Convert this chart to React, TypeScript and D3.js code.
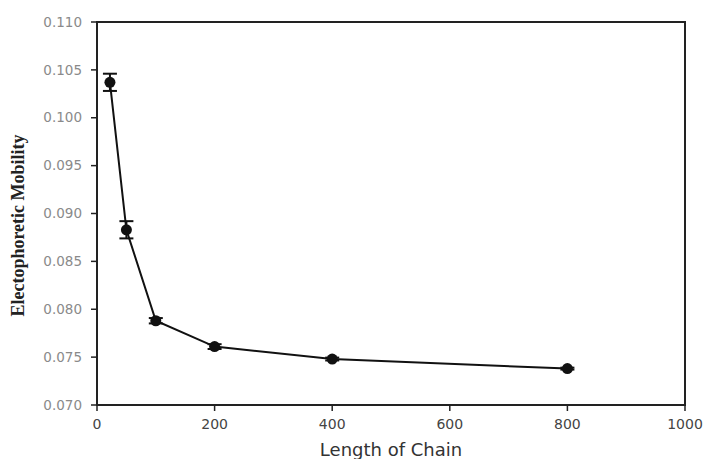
import React from "react";
import * as d3 from "d3";

const chainLengths = [22, 50, 100, 200, 400, 800];
const mobility = [0.1037, 0.0883, 0.0788, 0.0761, 0.0748, 0.0738];
const errors = [0.0009, 0.0009, 0.00028, 0.00025, 0.00015, 0.0001];
const xTicks = [0, 200, 400, 600, 800, 1000];
const yTicks = [0.07, 0.075, 0.08, 0.085, 0.09, 0.095, 0.1, 0.105, 0.11];

const W = 706;
const H = 459;
const left = 97;
const right = 685;
const top = 22;
const bottom = 405;

export default function App() {
  const x = d3.scaleLinear().domain([0, 1000]).range([left, right]);
  const y = d3.scaleLinear().domain([0.07, 0.11]).range([bottom, top]);
  const pts = chainLengths.map((c, i) => ({ c, v: mobility[i], e: errors[i] }));
  const line = d3
    .line<{ c: number; v: number }>()
    .x((d) => x(d.c))
    .y((d) => y(d.v));
  const fmt = d3.format(".3f");
  const axisColor = "#222";
  return (
    <svg
      width={W}
      height={H}
      style={{ position: "absolute", left: 0, top: 0, background: "#fff" }}
    >
      <rect x={0} y={0} width={W} height={H} fill="#fff" />
      <rect
        x={left}
        y={top}
        width={right - left}
        height={bottom - top}
        fill="none"
        stroke={axisColor}
        strokeWidth={2}
      />
      {yTicks.map((t) => (
        <g key={"y" + t}>
          <line x1={left - 6} x2={left} y1={y(t)} y2={y(t)} stroke={axisColor} strokeWidth={1.5} />
          <text
            x={left - 15}
            y={y(t)}
            dy="0.35em"
            textAnchor="end"
            fontFamily="DejaVu Sans, sans-serif"
            fontSize={13.5}
            fill="#8a8a8a"
          >
            {fmt(t)}
          </text>
        </g>
      ))}
      {xTicks.map((t) => (
        <g key={"x" + t}>
          <line x1={x(t)} x2={x(t)} y1={bottom} y2={bottom + 6} stroke={axisColor} strokeWidth={1.5} />
          <text
            x={x(t)}
            y={bottom + 24}
            textAnchor="middle"
            fontFamily="DejaVu Sans, sans-serif"
            fontSize={14}
            fill="#444"
          >
            {t}
          </text>
        </g>
      ))}
      <text
        x={(left + right) / 2}
        y={456}
        textAnchor="middle"
        fontFamily="DejaVu Sans, sans-serif"
        fontSize={18}
        fill="#333"
      >
        Length of Chain
      </text>
      <text
        transform={`translate(24,${(top + bottom) / 2 + 12}) rotate(-90)`}
        textAnchor="middle"
        fontFamily="Liberation Serif, serif"
        fontSize={18}
        fontWeight="bold"
        fill="#222"
      >
        Electophoretic Mobility
      </text>
      <path d={line(pts) || ""} fill="none" stroke="#111" strokeWidth={2} />
      {pts.map((p, i) => (
        <g key={"e" + i} stroke="#111" strokeWidth={2}>
          <line x1={x(p.c)} x2={x(p.c)} y1={y(p.v - p.e)} y2={y(p.v + p.e)} />
          <line x1={x(p.c) - 7} x2={x(p.c) + 7} y1={y(p.v - p.e)} y2={y(p.v - p.e)} />
          <line x1={x(p.c) - 7} x2={x(p.c) + 7} y1={y(p.v + p.e)} y2={y(p.v + p.e)} />
        </g>
      ))}
      {pts.map((p, i) => (
        <circle key={"m" + i} cx={x(p.c)} cy={y(p.v)} r={5.5} fill="#111" />
      ))}
    </svg>
  );
}
